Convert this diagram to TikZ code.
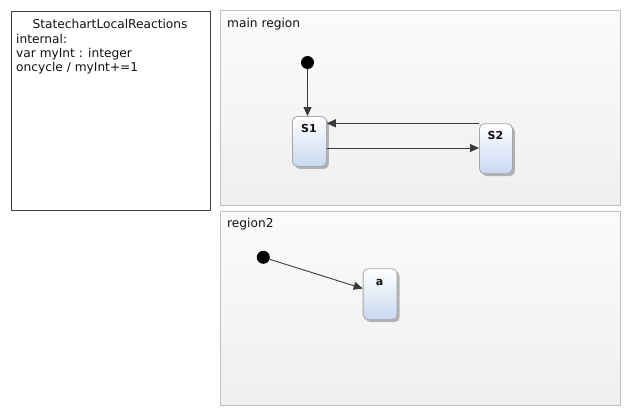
\documentclass[tikz,border=0pt]{standalone}
\usepackage{fontspec}
\setmainfont{DejaVu Sans}
\usetikzlibrary{arrows.meta,shadows}
\definecolor{txt}{HTML}{111111}
\definecolor{regborder}{HTML}{C0C0C0}
\definecolor{regtop}{HTML}{FBFBFB}
\definecolor{regbot}{HTML}{EFEFEF}
\definecolor{stborder}{HTML}{A6A6A6}
\definecolor{sttop}{HTML}{FFFFFF}
\definecolor{stbot}{HTML}{C8D8F0}
\definecolor{arr}{HTML}{3A3A3A}
\begin{document}
\begin{tikzpicture}[x=1pt,y=-1pt,
  spec/.style={draw=black!75, line width=0.9pt, inner sep=0pt, anchor=north west},
  region/.style={draw=regborder, line width=0.8pt, top color=regtop, bottom color=regbot, inner sep=0pt, anchor=north west},
  regtitle/.style={anchor=base west, inner sep=0pt, font=\fontsize{12.2}{14}\selectfont, text=txt},
  spectext/.style={anchor=base west, inner sep=0pt, font=\fontsize{12.2}{14}\selectfont, text=txt},
  state/.style={draw=stborder, line width=0.8pt, top color=sttop, bottom color=stbot, rounded corners=5pt, inner sep=0pt, anchor=north west,
    drop shadow={shadow xshift=2.5pt, shadow yshift=-2.5pt, opacity=0.45, fill=black!60}},
  stlabel/.style={anchor=base, inner sep=0pt, font=\fontsize{11}{13}\selectfont\bfseries, text=txt},
  initial/.style={circle, fill=black, inner sep=0pt, minimum size=13pt},
  trans/.style={draw=arr, line width=0.9pt, -{Triangle[length=9pt,width=8pt]}}
]
\useasboundingbox (0,0) rectangle (630,416);
\fill[white] (0,0) rectangle (630,416);

% specification box
\node (specbox) [spec, minimum width=199pt, minimum height=199.5pt] at (10.5,10.5) {};
\node (spectitle) [anchor=base, inner sep=0pt, font=\fontsize{12.2}{14}\selectfont, text=txt] at (110,28) {StatechartLocalReactions};
\node (l1) [spectext] at (16,43.5) {internal:};
\node (l2) [spectext] at (16,57.5) {var myInt : integer};
\node (l3) [spectext] at (16,71.5) {oncycle / myInt+=1};

% regions
\node (mainreg) [region, minimum width=399.5pt, minimum height=195pt] at (220,10) {};
\node (mainlbl) [regtitle] at (227,27.5) {main region};
\node (reg2) [region, minimum width=399.5pt, minimum height=194.5pt] at (220,210.5) {};
\node (reg2lbl) [regtitle] at (227,227.5) {region2};

% states
\node (S1) [state, minimum width=34pt, minimum height=50pt] at (292,116) {};
\node (S1l) [stlabel] at (309,132.5) {S1};
\node (S2) [state, minimum width=33pt, minimum height=50pt] at (479,123.3) {};
\node (S2l) [stlabel] at (495.5,139.5) {S2};
\node (A) [state, minimum width=34pt, minimum height=51pt] at (362.7,268.3) {};
\node (Al) [stlabel] at (379.7,285.5) {a};

% initial states
\node (i1) [initial] at (307.5,62.5) {};
\node (i2) [initial] at (263.3,257.3) {};

% transitions
\draw[trans] (i1.south) -- (i1.south |- S1.north);
\draw[trans] (S2.north west) -- (S1.east |- S2.north west);
\draw[trans] (S1.east |- 0,148) -- (S2.west |- 0,148);
\draw[trans] (i2) -- (A.west |- 0,288.5);
\end{tikzpicture}
\end{document}
